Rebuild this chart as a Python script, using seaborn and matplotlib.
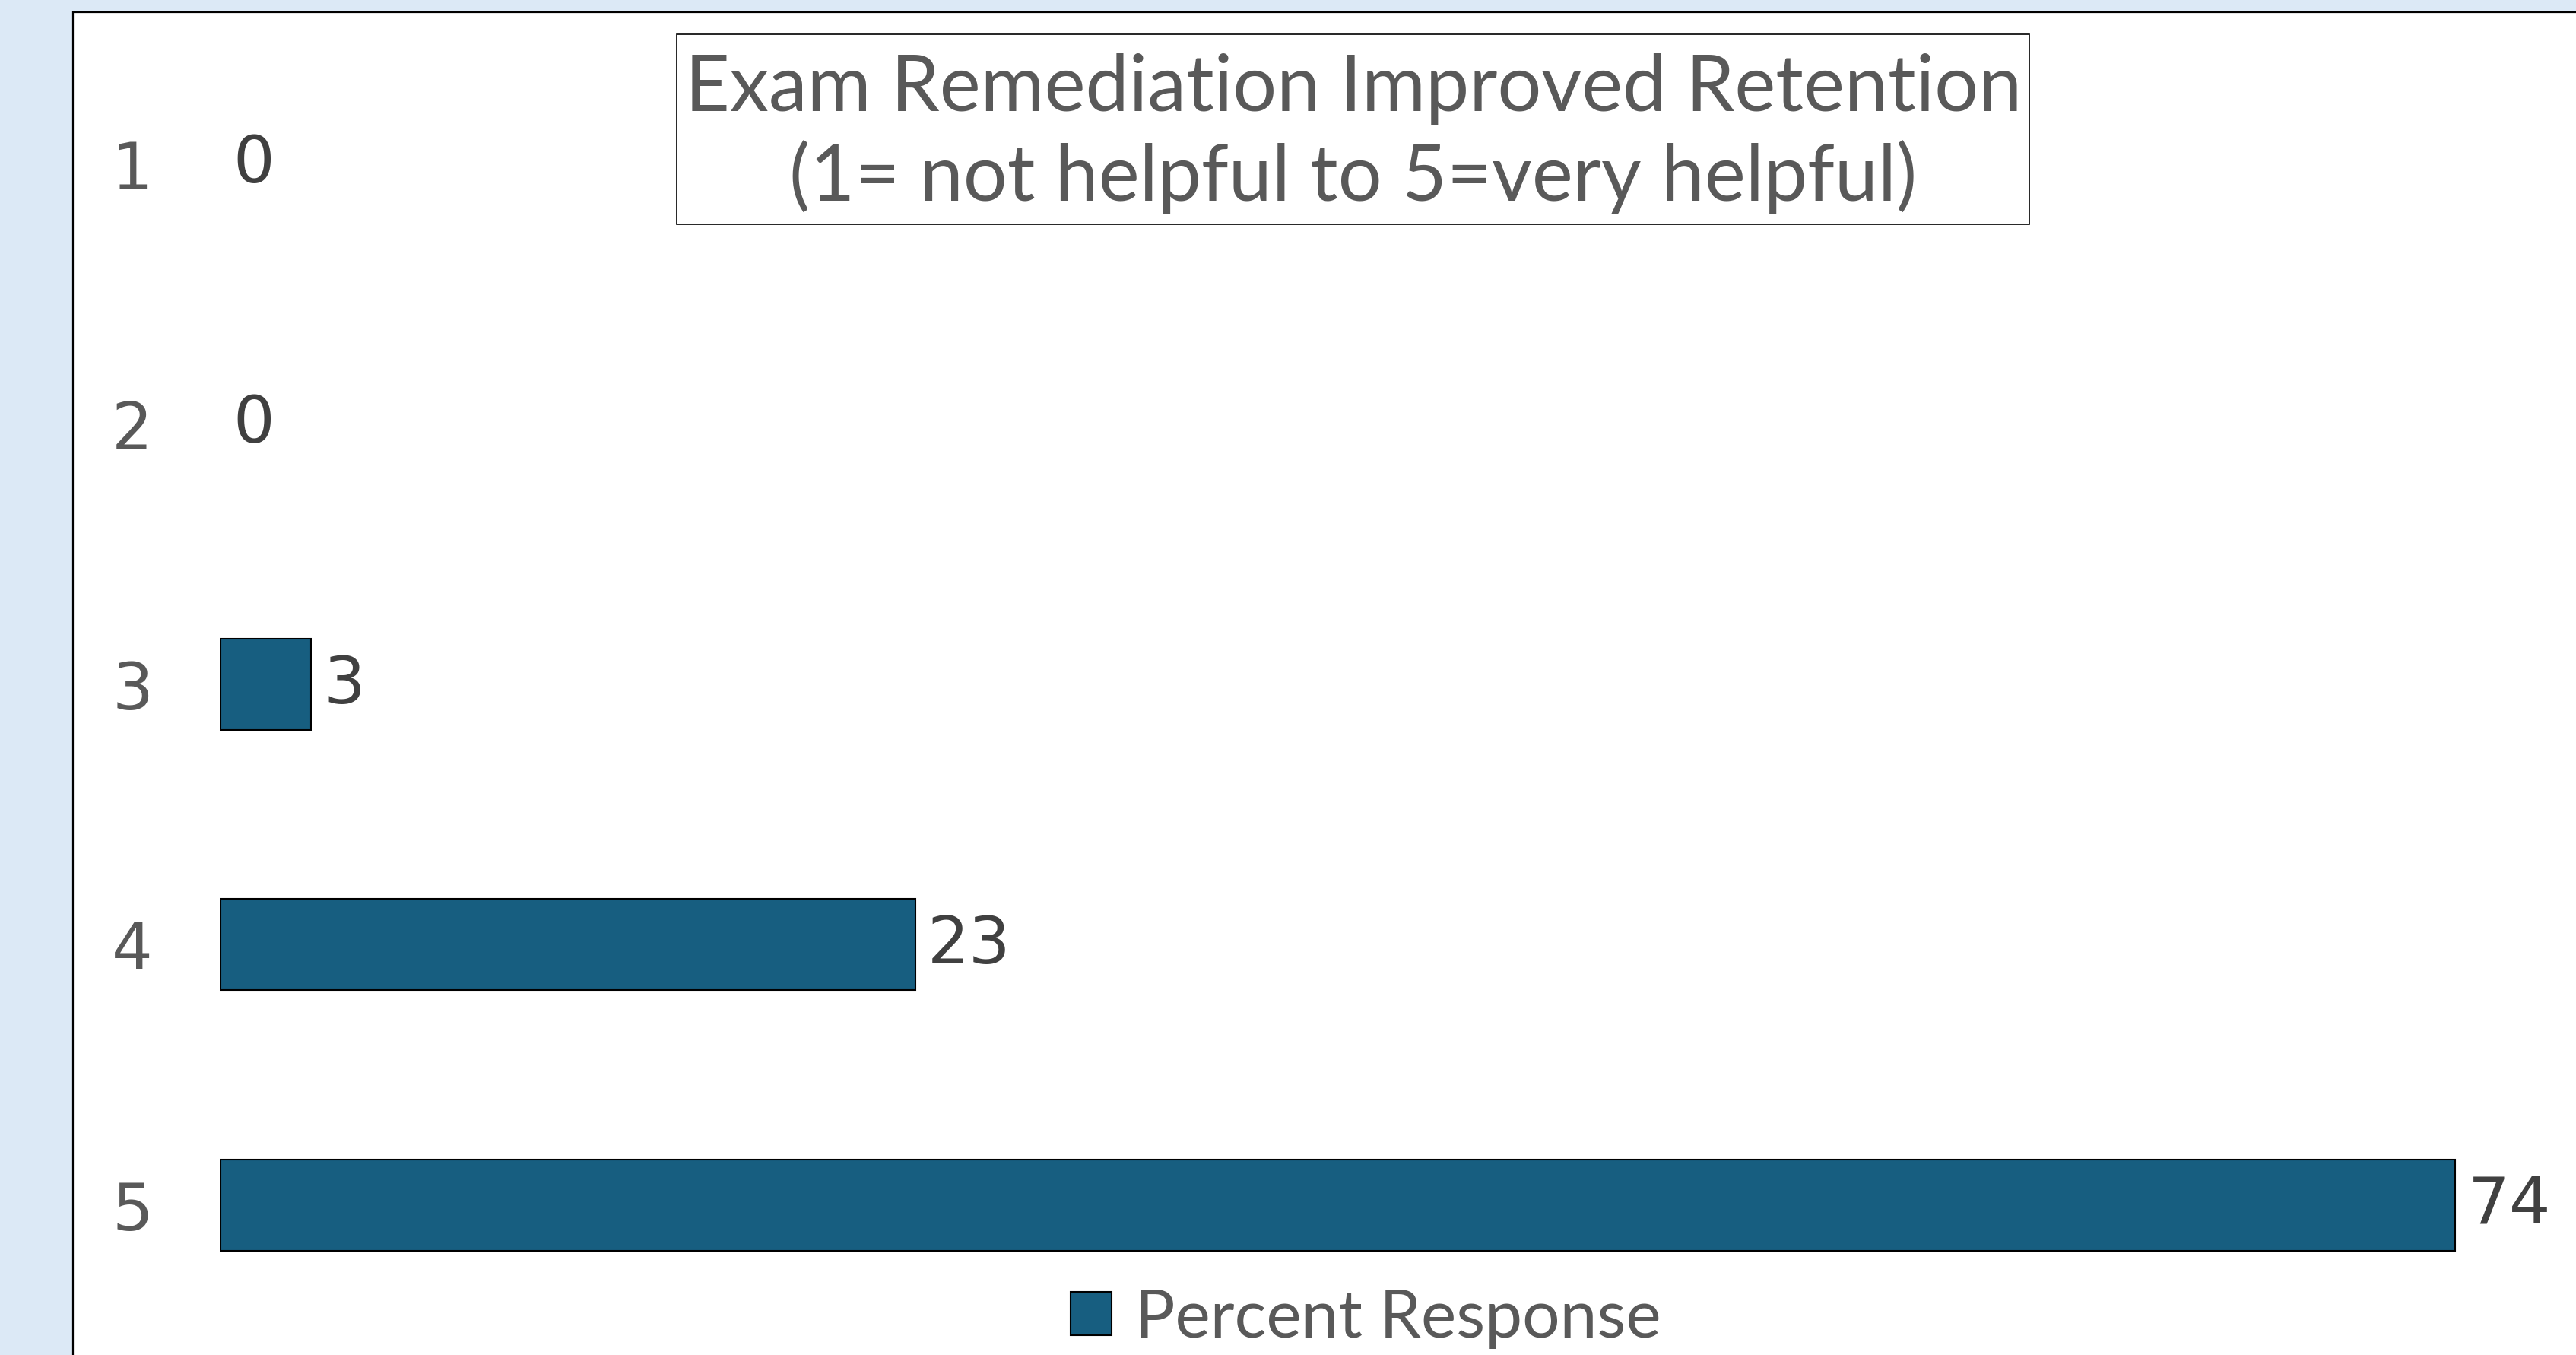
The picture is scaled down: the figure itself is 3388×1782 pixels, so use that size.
import pandas as pd
import matplotlib
matplotlib.use('Agg')
import matplotlib.pyplot as plt
from matplotlib.patches import Rectangle
import seaborn as sns

# --- data ---
ratings = ['1', '2', '3', '4', '5']
percent = [0, 0, 3, 23, 74]
series_name = 'Percent Response'
title_text = 'Exam Remediation Improved Retention\n(1= not helpful to 5=very helpful)'

BAR_COLOR = '#175E80'
BG_COLOR = '#DCE9F6'

sns.set_theme(style='white')
plt.rcParams['font.family'] = ['DejaVu Sans']

W, H = 3388, 1783
fig = plt.figure(figsize=(W / 100, H / 100), dpi=100)
fig.patch.set_facecolor(BG_COLOR)

# white panel with black top/left border (behind the axes)
fig.patches.append(Rectangle((96 / W, -0.1), 1.2, 1.1 - 17 / H, transform=fig.transFigure,
                             facecolor='white', edgecolor='black', linewidth=1.6, zorder=-5))

df = pd.DataFrame({'rating': ratings, 'pct': percent})

ax = fig.add_axes([290 / W, 1 - 1757 / H, 1 - 290 / W, (1757 - 45) / H])
ax.patch.set_alpha(0)
sns.barplot(data=df, x='pct', y='rating', order=ratings, orient='h', color=BAR_COLOR,
            saturation=1, width=0.35, edgecolor='black', linewidth=1.5,
            label=series_name, legend=False, ax=ax)
# no outline on empty bars
for bar, v in zip(ax.containers[0], percent):
    if v == 0:
        bar.set_linewidth(0)
ax.set_xlim(0, 78)
ax.set_xlabel('')
ax.set_ylabel('')
ax.set_xticks([])
for s in ax.spines.values():
    s.set_visible(False)
ax.tick_params(axis='y', length=0, pad=64, labelsize=61, labelcolor='#595959')

ax.bar_label(ax.containers[0], labels=[str(v) for v in percent], padding=12,
             fontsize=62, color='#404040')

# title box drawn separately so the text can sit a little low in it, like the original
fig.patches.append(Rectangle((890 / W, 1 - 296 / H), (2669 - 890) / W, 250 / H,
                             transform=fig.transFigure, facecolor='white',
                             edgecolor='black', linewidth=1.2, zorder=1))
fig.text(1780 / W, 1 - 176 / H, title_text, ha='center', va='center', fontsize=73.5,
         color='#595959', family=['Lato', 'DejaVu Sans'], linespacing=1.25, zorder=2)

handle = Rectangle((0, 0), 1, 1, facecolor=BAR_COLOR, edgecolor='black', linewidth=1.5)
fig.legend([handle], [series_name], loc='center', bbox_to_anchor=(1796 / W, 1 - 1735 / H),
           frameon=False, prop={'family': ['Lato', 'DejaVu Sans'], 'size': 63},
           labelcolor='#595959', handlelength=0.62, handleheight=0.62, handletextpad=0.35,
           borderpad=0, borderaxespad=0)

fig.savefig('out.png', dpi=100, facecolor=fig.get_facecolor())
